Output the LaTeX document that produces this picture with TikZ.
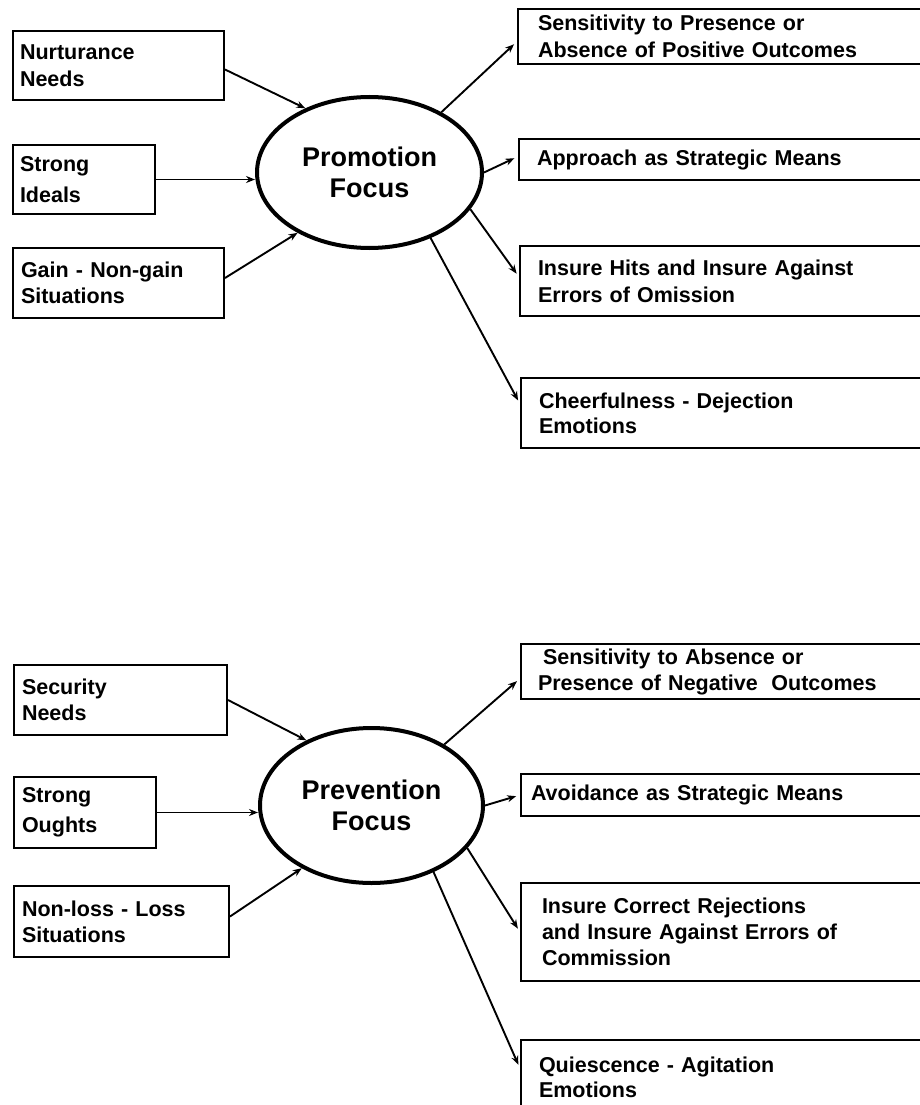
\documentclass[tikz,border=0pt]{standalone}
\usepackage{fontspec}
\setmainfont{Liberation Sans}
\usetikzlibrary{shapes.geometric,arrows.meta}
\tikzset{
  box/.style={draw, line width=2pt, rectangle, anchor=north west, align=left,
    inner ysep=0pt, font=\bfseries\fontsize{21.5}{27}\selectfont},
  focus/.style={draw, ellipse, line width=4pt, inner sep=0pt, align=center,
    font=\bfseries\fontsize{27}{31}\selectfont},
  conn/.style={line width=1.9pt, -{Stealth[length=9pt,width=7pt]}},
  connr/.style={conn, shorten >=4pt},
}
\begin{document}
\begin{tikzpicture}[x=1pt,y=-1pt]
\useasboundingbox (0,0) rectangle (920,1105);

% ---------- Promotion ----------
\node[focus, minimum width=225pt, minimum height=151pt] (promo) at (369.5,172.5) {Promotion\\Focus};

\node[box, inner xsep=7pt, text width=197pt, minimum height=69pt] (nurt) at (12,30) {Nurturance\\Needs};
\node[box, inner xsep=7pt, text width=128pt, minimum height=69pt, font=\bfseries\fontsize{21.5}{31}\selectfont] (ideals) at (12,144) {Strong\\Ideals};
\node[box, inner xsep=8pt, text width=195pt, minimum height=70pt, font=\bfseries\fontsize{21.5}{26}\selectfont] (gain) at (12,247) {Gain - Non-gain\\Situations};

\node[box, inner xsep=20pt, text width=368pt, minimum height=55pt] (sensp) at (517,8) {Sensitivity to Presence or\\Absence of Positive Outcomes};
\node[box, inner xsep=18pt, text width=371pt, minimum height=41pt] (appr) at (518,138) {Approach as Strategic Means};
\node[box, inner xsep=18pt, text width=370pt, minimum height=70pt] (hits) at (519,245) {Insure Hits and Insure Against\\Errors of Omission};
\node[box, inner xsep=18pt, text width=369pt, minimum height=70pt, font=\bfseries\fontsize{21.5}{25}\selectfont] (cheer) at (520,377) {Cheerfulness - Dejection\\Emotions};

\draw[conn] ([yshift=-4pt]nurt.east) -- (promo.135);
\draw[conn] (ideals.east) -- (ideals.east -| promo.west);
\draw[conn] ([yshift=5pt]gain.east) -- (promo.220);

\draw[connr] (promo.40) -- ([yshift=-5pt]sensp.west);
\draw[connr] (promo.0) -- ([yshift=3pt]appr.west);
\draw[connr] (promo.-20) -- ([yshift=4pt]hits.west);
\draw[connr] (promo.-47) -- ([yshift=9pt]cheer.west);

% ---------- Prevention ----------
\node[focus, minimum width=223pt, minimum height=155pt] (prev) at (371.5,805.5) {Prevention\\Focus};

\node[box, inner xsep=8pt, text width=197pt, minimum height=70pt, font=\bfseries\fontsize{21.5}{26}\selectfont] (sec) at (13,664) {Security\\Needs};
\node[box, inner xsep=8pt, text width=126pt, minimum height=71pt, font=\bfseries\fontsize{21.5}{30}\selectfont] (oughts) at (13,776) {Strong\\Oughts};
\node[box, inner xsep=8pt, text width=199pt, minimum height=71pt, font=\bfseries\fontsize{21.5}{26}\selectfont] (nonloss) at (13,885) {Non-loss - Loss\\Situations};

\node[box, inner xsep=17pt, text width=371pt, minimum height=55pt, font=\bfseries\fontsize{21.5}{26}\selectfont] (sensn) at (520,643) {\hspace*{5pt}Sensitivity to Absence or\\Presence of Negative\hspace{0.3em} Outcomes};
\node[box, inner xsep=10pt, text width=385pt, minimum height=42pt] (avoid) at (520,773) {Avoidance as Strategic Means};
\node[box, inner xsep=21pt, text width=363pt, minimum height=98pt, font=\bfseries\fontsize{21.5}{26}\selectfont] (rej) at (520,882) {Insure Correct Rejections\\and Insure Against Errors of\\Commission};
\node[box, inner xsep=18pt, text width=369pt, minimum height=75pt, font=\bfseries\fontsize{21.5}{25}\selectfont] (quies) at (520,1039) {Quiescence - Agitation\\Emotions};

\draw[conn] (sec.east) -- (prev.135);
\draw[conn] (oughts.east) -- (oughts.east -| prev.west);
\draw[conn] ([yshift=5pt]nonloss.east) -- (prev.222);

\draw[connr] (prev.40) -- ([yshift=-7pt]sensn.west);
\draw[connr] (prev.0) -- (avoid.west);
\draw[connr] (prev.-24) -- (rej.west);
\draw[connr] (prev.-47) -- ([yshift=9pt]quies.west);
\end{tikzpicture}
\end{document}
